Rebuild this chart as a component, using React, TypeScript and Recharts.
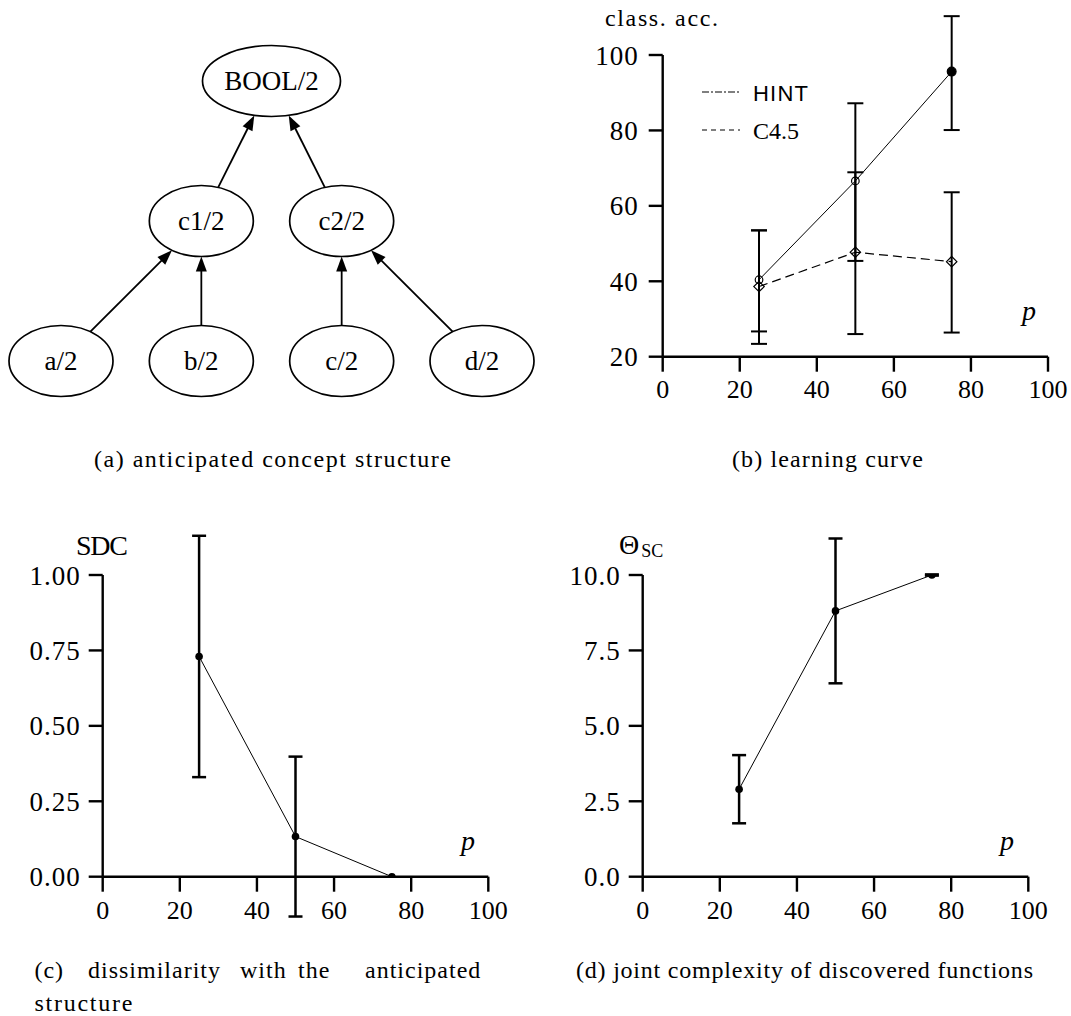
import React from 'react';
import {
  LineChart,
  Line,
  XAxis,
  YAxis,
  ErrorBar,
  Legend,
  ScatterChart,
  Scatter,
  ReferenceLine,
} from 'recharts';

const SERIF = '"Liberation Serif", "Times New Roman", serif';
const SANS = '"Liberation Sans", Arial, sans-serif';

// ---------- (a) anticipated concept structure ----------
const treeNodes = [
  { id: 'BOOL/2', col: 1.5, level: 2 },
  { id: 'c1/2', col: 1, level: 1 },
  { id: 'c2/2', col: 2, level: 1 },
  { id: 'a/2', col: 0, level: 0 },
  { id: 'b/2', col: 1, level: 0 },
  { id: 'c/2', col: 2, level: 0 },
  { id: 'd/2', col: 3, level: 0 },
];
const treeEdges = [
  ['c1/2', 'BOOL/2'],
  ['c2/2', 'BOOL/2'],
  ['a/2', 'c1/2'],
  ['b/2', 'c1/2'],
  ['c/2', 'c2/2'],
  ['d/2', 'c2/2'],
];

// ---------- shared x axis ----------
const pValues = [25, 50, 75];
const pTicks = [0, 20, 40, 60, 80, 100];

// ---------- (b) learning curve ----------
const hintAcc = [40.4, 66.6, 95.6];
const hintErrLow = [13.7, 21.2, 15.5];
const hintErrHigh = [13.1, 20.6, 14.7];
const c45Acc = [38.6, 47.7, 45.2];
const c45ErrLow = [15.2, 21.7, 18.8];
const c45ErrHigh = [14.9, 21.2, 18.4];
const accTicks = [20, 40, 60, 80, 100];

// ---------- (c) SDC ----------
const sdcValues = [0.73, 0.133, 0];
const sdcErr = [0.4, 0.265, 0];
const sdcTicks = [0, 0.25, 0.5, 0.75, 1];

// ---------- (d) Theta_SC ----------
const thetaValues = [2.9, 8.81, 10];
const thetaErr = [1.13, 2.4, 0.02];
const thetaTicks = [0, 2.5, 5, 7.5, 10];

const legendOrder = ['HINT', 'C4.5'];

const accRows = pValues.map((p, i) => ({
  p,
  hint: hintAcc[i],
  hintErr: [hintErrLow[i], hintErrHigh[i]],
  c45: c45Acc[i],
  c45Err: [c45ErrLow[i], c45ErrHigh[i]],
}));
const sdcRows = pValues.map((p, i) => ({ p, v: sdcValues[i], err: sdcErr[i] }));
const thetaRows = pValues.map((p, i) => ({ p, v: thetaValues[i], err: thetaErr[i] }));

const nodeById: Record<string, any> = {};
treeNodes.forEach((n) => (nodeById[n.id] = n));

const axisLineStyle = { stroke: '#000', strokeWidth: 2.4 };
const xTickStyle = { fill: '#000', fontSize: 26, fontFamily: SERIF };
const yTickStyle = { fill: '#000', fontSize: 27, fontFamily: SERIF, letterSpacing: 1 };

function nodeRadii(id: string) {
  return id === 'BOOL/2' ? { rx: 69, ry: 35.5 } : { rx: 52, ry: 35.5 };
}

function NodeShape(props: any) {
  const { cx, cy, payload } = props;
  const { rx, ry } = nodeRadii(payload.id);
  return (
    <g>
      <ellipse cx={cx} cy={cy} rx={rx} ry={ry} fill="#fff" stroke="#000" strokeWidth={1.7} />
      <text x={cx} y={cy} dy={9} textAnchor="middle" fontFamily={SERIF} fontSize={27} fill="#000">
        {payload.id}
      </text>
    </g>
  );
}

function makeArrow(fromId: string, toId: string) {
  return (p: any) => {
    const { x1, y1, x2, y2 } = p;
    const dx = x2 - x1;
    const dy = y2 - y1;
    const len = Math.hypot(dx, dy) || 1;
    const ux = dx / len;
    const uy = dy / len;
    const r1 = nodeRadii(fromId);
    const r2 = nodeRadii(toId);
    const t1 = 1 / Math.sqrt((ux / r1.rx) ** 2 + (uy / r1.ry) ** 2);
    const t2 = 1 / Math.sqrt((ux / r2.rx) ** 2 + (uy / r2.ry) ** 2);
    const sx = x1 + ux * t1;
    const sy = y1 + uy * t1;
    const ex = x2 - ux * t2;
    const ey = y2 - uy * t2;
    const L = 15;
    const W = 5.5;
    const bx = ex - ux * L;
    const by = ey - uy * L;
    const px = -uy;
    const py = ux;
    return (
      <g>
        <line x1={sx} y1={sy} x2={bx + ux * 2} y2={by + uy * 2} stroke="#000" strokeWidth={1.8} />
        <polygon
          points={`${ex},${ey} ${bx + px * W},${by + py * W} ${bx - px * W},${by - py * W}`}
          fill="#000"
        />
      </g>
    );
  };
}

const hintDot = (props: any) => {
  const { cx, cy, index } = props;
  const last = index === pValues.length - 1;
  return (
    <circle
      key={`hd${index}`}
      cx={cx}
      cy={cy}
      r={last ? 4.4 : 3.8}
      fill={last ? '#000' : 'none'}
      stroke="#000"
      strokeWidth={1.2}
    />
  );
};

const diamondDot = (props: any) => {
  const { cx, cy, index } = props;
  const s = 5.2;
  return (
    <path
      key={`dd${index}`}
      d={`M${cx},${cy - s} L${cx + s},${cy} L${cx},${cy + s} L${cx - s},${cy} Z`}
      fill="none"
      stroke="#000"
      strokeWidth={1.2}
    />
  );
};

const solidDot = (props: any) => {
  const { cx, cy, index } = props;
  return <circle key={`sd${index}`} cx={cx} cy={cy} r={3.8} fill="#000" stroke="none" />;
};

const legendLook: Record<string, { dash: string; font: string; size: number; len: number }> = {
  HINT: { dash: '7 2 2 2', font: SANS, size: 22, len: 55 },
  'C4.5': { dash: '5 4', font: SERIF, size: 24, len: 46 },
};

function AccLegend(props: any) {
  const payload = [...(props.payload || [])].sort(
    (a: any, b: any) => legendOrder.indexOf(a.value) - legendOrder.indexOf(b.value),
  );
  return (
    <svg width={150} height={90} style={{ overflow: 'visible' }}>
      {payload.map((entry: any, i: number) => {
        const look = legendLook[entry.value] || legendLook.HINT;
        const y = 22 + i * 38;
        return (
          <g key={entry.value}>
            <line x1={12} y1={y} x2={50} y2={y} stroke="#000" strokeWidth={1.2} strokeDasharray={look.dash} />
            <text
              x={63}
              y={y + 8.5}
              fontFamily={look.font}
              fontSize={look.size}
              fill="#000"
              textLength={look.len}
              lengthAdjust="spacing"
            >
              {entry.value}
            </text>
          </g>
        );
      })}
    </svg>
  );
}

function TreePanel() {
  return (
    <ScatterChart width={540} height={440} margin={{ top: 81, right: 58, bottom: 79, left: 61 }}>
      <XAxis type="number" dataKey="col" domain={[0, 3]} hide />
      <YAxis type="number" dataKey="level" domain={[0, 2]} hide />
      {treeEdges.map(([from, to]) => {
        const a = nodeById[from];
        const b = nodeById[to];
        return (
          <ReferenceLine
            key={`${from}-${to}`}
            segment={[
              { x: a.col, y: a.level },
              { x: b.col, y: b.level },
            ]}
            ifOverflow="visible"
            shape={makeArrow(from, to)}
          />
        );
      })}
      <Scatter data={treeNodes} shape={NodeShape} isAnimationActive={false} />
    </ScatterChart>
  );
}

function AccPanel() {
  return (
    <LineChart width={511} height={420} data={accRows} margin={{ top: 55, right: 23, bottom: 13.3, left: 0 }}>
      <XAxis
        type="number"
        dataKey="p"
        domain={[0, 100]}
        ticks={pTicks}
        interval={0}
        allowDataOverflow
        height={50}
        tickSize={15}
        tickMargin={8}
        axisLine={axisLineStyle}
        tickLine={axisLineStyle}
        tick={xTickStyle}
      />
      <YAxis
        type="number"
        domain={[20, 100]}
        ticks={accTicks}
        interval={0}
        allowDataOverflow
        width={102.7}
        tickSize={14}
        tickMargin={10}
        axisLine={axisLineStyle}
        tickLine={axisLineStyle}
        tick={yTickStyle}
      />
      <Line
        type="linear"
        dataKey="hint"
        name="HINT"
        stroke="#000"
        strokeWidth={1}
        dot={hintDot}
        activeDot={false}
        isAnimationActive={false}
      >
        <ErrorBar dataKey="hintErr" width={8} strokeWidth={2} stroke="#000" direction="y" />
      </Line>
      <Line
        type="linear"
        dataKey="c45"
        name="C4.5"
        stroke="#000"
        strokeWidth={1.2}
        strokeDasharray="9 5"
        dot={diamondDot}
        activeDot={false}
        isAnimationActive={false}
      >
        <ErrorBar dataKey="c45Err" width={8} strokeWidth={2} stroke="#000" direction="y" />
      </Line>
      <Legend
        layout="vertical"
        align="center"
        verticalAlign="middle"
        content={(p: any) => <AccLegend {...p} />}
        wrapperStyle={{ left: 130, top: 70, width: 150, height: 90 }}
      />
    </LineChart>
  );
}

function SinglePanel(props: {
  rows: any[];
  ticks: number[];
  domain: [number, number];
  digits: number;
  width: number;
  right: number;
}) {
  const { rows, ticks, domain, digits, width, right } = props;
  return (
    <LineChart width={width} height={440} data={rows} margin={{ top: 75, right, bottom: 13.3, left: 0 }}>
      <XAxis
        type="number"
        dataKey="p"
        domain={[0, 100]}
        ticks={pTicks}
        interval={0}
        allowDataOverflow
        height={50}
        tickSize={15}
        tickMargin={9}
        axisLine={axisLineStyle}
        tickLine={axisLineStyle}
        tick={xTickStyle}
      />
      <YAxis
        type="number"
        domain={domain}
        ticks={ticks}
        interval={0}
        allowDataOverflow
        width={102.7}
        tickSize={14}
        tickMargin={8}
        axisLine={axisLineStyle}
        tickLine={axisLineStyle}
        tick={yTickStyle}
        tickFormatter={(v: number) => v.toFixed(digits)}
      />
      <Line
        type="linear"
        dataKey="v"
        stroke="#000"
        strokeWidth={1}
        dot={solidDot}
        activeDot={false}
        isAnimationActive={false}
      >
        <ErrorBar dataKey="err" width={7} strokeWidth={2.5} stroke="#000" direction="y" />
      </Line>
    </LineChart>
  );
}

export default function App() {
  return (
    <div
      style={{
        position: 'absolute',
        left: 0,
        top: 0,
        width: 1071,
        height: 1016,
        background: '#fff',
        overflow: 'hidden',
      }}
    >
      <div style={{ position: 'absolute', left: 0, top: 0 }}>
        <TreePanel />
      </div>
      <div style={{ position: 'absolute', left: 560, top: 0 }}>
        <AccPanel />
      </div>
      <div style={{ position: 'absolute', left: 0, top: 500 }}>
        <SinglePanel rows={sdcRows} ticks={sdcTicks} domain={[0, 1]} digits={2} width={540} right={51.7} />
      </div>
      <div style={{ position: 'absolute', left: 540, top: 500 }}>
        <SinglePanel rows={thetaRows} ticks={thetaTicks} domain={[0, 10]} digits={1} width={531} right={42.7} />
      </div>
      <svg width={1071} height={1016} style={{ position: 'absolute', left: 0, top: 0, pointerEvents: 'none' }}>
        <g fontFamily={SERIF} fill="#000">
          {/* axis titles */}
          <text x={605} y={26} fontSize={24} textLength={113} lengthAdjust="spacing">
            class. acc.
          </text>
          <text x={1022} y={320} fontSize={28} fontStyle="italic">
            p
          </text>
          <text x={76} y={555} fontSize={28} textLength={52} lengthAdjust="spacing">
            SDC
          </text>
          <text x={461} y={850} fontSize={28} fontStyle="italic">
            p
          </text>
          <text x={619} y={554} fontSize={28}>
            Θ
            <tspan fontSize={18} dy={3} dx={2}>
              SC
            </tspan>
          </text>
          <text x={1000} y={850} fontSize={28} fontStyle="italic">
            p
          </text>
          {/* captions */}
          <text x={94} y={467} fontSize={24} textLength={357} lengthAdjust="spacing">
            (a) anticipated concept structure
          </text>
          <text x={732} y={467} fontSize={24} textLength={191} lengthAdjust="spacing">
            (b) learning curve
          </text>
          <text y={978} fontSize={24} letterSpacing={1}>
            <tspan x={34.4}>(c)</tspan>
            <tspan x={88}>dissimilarity</tspan>
            <tspan x={240}>with</tspan>
            <tspan x={298}>the</tspan>
            <tspan x={365}>anticipated</tspan>
          </text>
          <text x={34.4} y={1011} fontSize={24} textLength={98} lengthAdjust="spacing">
            structure
          </text>
          <text x={576} y={978} fontSize={24} textLength={457} lengthAdjust="spacing">
            (d) joint complexity of discovered functions
          </text>
        </g>
      </svg>
    </div>
  );
}
